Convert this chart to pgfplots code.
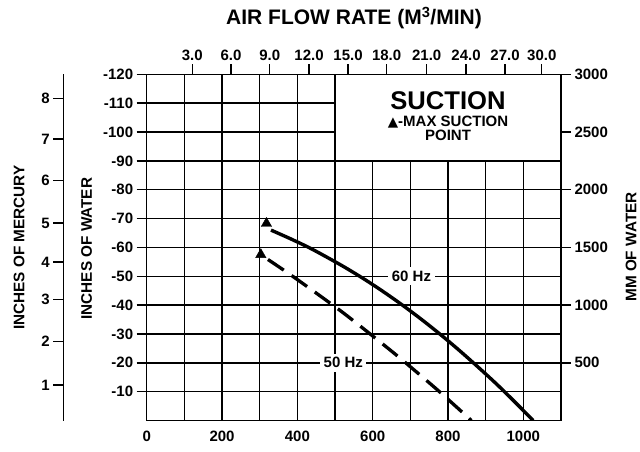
\documentclass[border=0pt]{standalone}
\usepackage{fontspec}
\setmainfont{Liberation Sans}
\newfontfamily\dejavu{DejaVu Sans}
\usepackage{pgfplots}
\pgfplotsset{compat=1.18}
\newcommand{\tl}{\fontsize{15}{18}\selectfont\bfseries}
\begin{document}
\begin{tikzpicture}
\useasboundingbox (0,0) rectangle (640pt,451pt);
% main axis
\begin{axis}[
  at={(146.7pt,30.5pt)}, anchor=south west,
  scale only axis, width=414.3pt, height=346.2pt,
  xmin=0, xmax=1100, ymin=-120, ymax=0, y dir=reverse,
  axis line style={line width=1.5pt},
  xtick={0,100,...,1100},
  xticklabels={0,,200,,400,,600,,800,,1000,},
  ytick={-120,-110,...,-10},
  yticklabels={-120,-110,-100,-90,-80,-70,-60,-50,-40,-30,-20,-10},
  grid=major, major grid style={black, line width=1.4pt},
  xtick style={draw=none},
  ytick style={black, line width=1.4pt},
  tick align=outside, major tick length=10pt,
  xtick pos=bottom, ytick pos=left,
  tick label style={font=\tl},
  xticklabel style={yshift=3pt},
]
\fill[white] (axis cs:500,-120) rectangle (axis cs:1100,-90);
\draw[line width=1.4pt] (axis cs:500,-120) rectangle (axis cs:1100,-90);
\addplot[black, line width=3.4pt, smooth] coordinates {
 (330,-66.0) (380,-63.1) (430,-60.0) (480,-56.5) (530,-52.8) (580,-48.8)
 (630,-44.5) (680,-39.9) (730,-35.0) (780,-29.8) (830,-24.3) (880,-18.5)
 (930,-12.5) (980,-6.1) (1026,0)};
\addplot[black, line width=3.3pt, smooth, dash pattern=on 19pt off 9.5pt] coordinates {
 (322,-55.8) (372,-51.4) (422,-46.8) (472,-42.1) (522,-37.3) (572,-32.2)
 (622,-27.0) (672,-21.7) (722,-16.2) (772,-10.6) (822,-4.75) (862,0)};
\addplot[only marks, black, mark=triangle*, mark size=6pt] coordinates {(318,-68.3) (303,-57.5)};
\node[fill=white, inner sep=3.5pt, font=\tl] at (axis cs:703,-50) {60 Hz};
\node[fill=white, inner sep=3.5pt, font=\tl] at (axis cs:522,-20) {50 Hz};
\node[font=\fontsize{25.6}{30}\selectfont\bfseries, inner sep=0pt] at (axis cs:800,-110.7) {SUCTION};
\node[font=\fontsize{15}{17}\selectfont\bfseries, inner sep=0pt] at (axis cs:800,-103.6) {{\dejavu\fontsize{13.5}{14}\selectfont ▲}-MAX SUCTION};
\node[font=\fontsize{15}{17}\selectfont\bfseries, inner sep=0pt] at (axis cs:800,-98.8) {POINT};
\end{axis}
% top / right axis
\begin{axis}[
  at={(146.7pt,30.5pt)}, anchor=south west,
  scale only axis, width=414.3pt, height=346.2pt,
  xmin=0, xmax=1100, ymin=-120, ymax=0, y dir=reverse,
  axis x line*=top, axis y line*=right,
  axis line style={line width=1.5pt},
  xtick={121,224,326.6,431,534.6,637,743.5,848,951.4,1049},
  xticklabels={3.0,6.0,9.0,12.0,15.0,18.0,21.0,24.0,27.0,30.0},
  ytick={-120,-100,-80,-60,-40,-20},
  yticklabels={3000,2500,2000,1500,1000,500},
  tick align=outside, major tick length=10pt,
  tick style={black, line width=1.4pt},
  tick label style={font=\tl},
]
\addplot[draw=none] coordinates {(0,0)};
\end{axis}
% inches of mercury axis
\begin{axis}[
  at={(63.3pt,30.5pt)}, anchor=south west,
  scale only axis, width=1pt, height=346.2pt,
  xmin=0, xmax=1, ymin=-120, ymax=0, y dir=reverse,
  axis y line*=left, axis x line=none,
  axis line style={line width=1.5pt},
  ytick={-111.7,-97.6,-83.1,-68.4,-54.9,-41.9,-27.4,-12.3},
  yticklabels={8,7,6,5,4,3,2,1},
  tick align=outside, major tick length=10pt,
  tick style={black, line width=1.4pt},
  tick label style={font=\tl},
]
\addplot[draw=none] coordinates {(0,0)};
\end{axis}
\node[rotate=90, font=\fontsize{15.3}{18}\selectfont\bfseries] at (19pt,203.5pt) {INCHES OF MERCURY};
\node[rotate=90, font=\fontsize{15.3}{18}\selectfont\bfseries] at (86.7pt,202.3pt) {INCHES OF WATER};
\node[rotate=90, font=\fontsize{15.3}{18}\selectfont\bfseries] at (631pt,204pt) {MM OF WATER};
\node[font=\fontsize{21}{24}\selectfont\bfseries] at (354pt,433pt) {AIR FLOW RATE (M\textsuperscript{3}/MIN)};
\end{tikzpicture}
\end{document}
